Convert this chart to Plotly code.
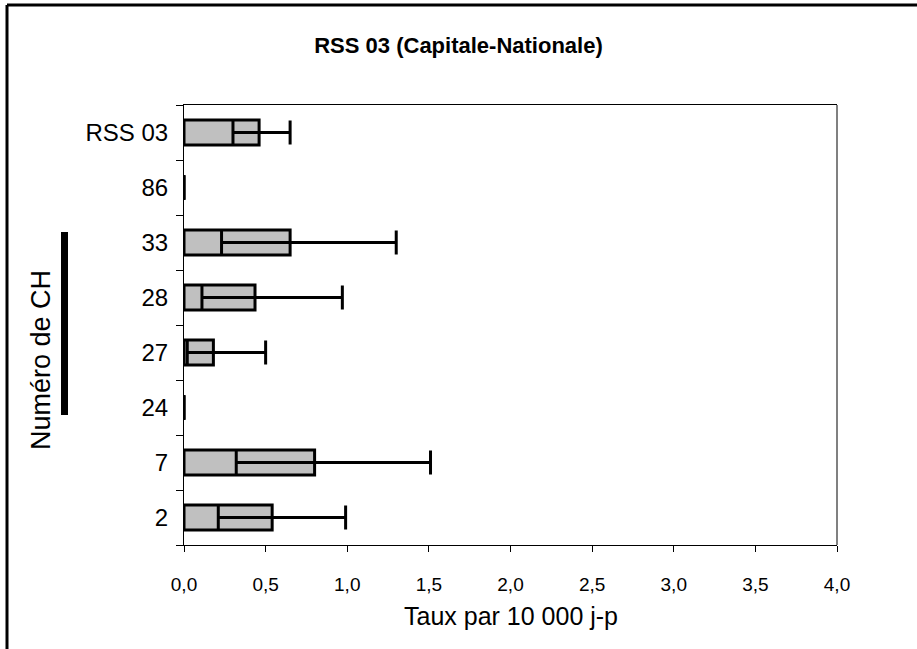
import plotly.graph_objects as go

# Data (bottom to top)
categories = ["2", "7", "24", "27", "28", "33", "86", "RSS 03"]
rates = [0.54, 0.80, 0.0, 0.18, 0.435, 0.65, 0.0, 0.46]
lower_ci = [0.21, 0.32, 0.0, 0.02, 0.11, 0.23, 0.0, 0.30]
upper_ci = [0.99, 1.51, 0.0, 0.50, 0.97, 1.30, 0.0, 0.65]
x_ticks = [0, 0.5, 1.0, 1.5, 2.0, 2.5, 3.0, 3.5, 4.0]

err_plus = [u - r for u, r in zip(upper_ci, rates)]
err_minus = [r - l for r, l in zip(rates, lower_ci)]

fig = go.Figure()
fig.add_trace(go.Bar(
    x=rates, y=categories, orientation="h",
    marker=dict(color="#C0C0C0", line=dict(color="black", width=3)),
    error_x=dict(type="data", symmetric=False, array=err_plus, arrayminus=err_minus,
                 color="black", thickness=3, width=12),
    showlegend=False,
))

# plot area: left 184, right 837, top 105, bottom 545
W, H = 917, 649
L, R, T, B = 184, 837, 105, 545
pw, ph = R - L, B - T

def px(xp):
    return (xp - L) / pw

def py(yp):
    return 1 - (yp - T) / ph

fig.update_layout(
    width=W, height=H,
    margin=dict(l=L, r=W - R, t=T, b=H - B, pad=0),
    paper_bgcolor="white", plot_bgcolor="white",
    separators=", ",
    bargap=0.545,
    font=dict(family="Liberation Sans, Arial, sans-serif", color="black"),
    title=dict(text="<b>RSS 03 (Capitale-Nationale)</b>", x=0.5, xanchor="center",
               y=1 - 45 / H, yanchor="middle",
               font=dict(size=22, family="Liberation Sans, Arial, sans-serif", color="black")),
    xaxis=dict(range=[0, 4], tickvals=x_ticks, tickformat=".1f",
               showgrid=False, zeroline=False,
               showline=True, linecolor="black", linewidth=1, mirror=True,
               ticks="outside", ticklen=6, tickcolor="black",
               ticklabelstandoff=16,
               tickfont=dict(size=19)),
    yaxis=dict(type="category", categoryorder="array", categoryarray=categories,
               showgrid=False, zeroline=False,
               showline=True, linecolor="black", linewidth=1,
               ticks="outside", ticklen=7, tickcolor="black", tickson="boundaries",
               ticklabelstandoff=10,
               tickfont=dict(size=24)),
    annotations=[
        dict(text="Taux par 10 000 j-p", xref="paper", yref="paper", x=0.5, y=py(616),
             xanchor="center", yanchor="middle", showarrow=False, font=dict(size=25)),
        dict(text="Numéro de CH", xref="paper", yref="paper", x=px(41), y=py(360),
             xanchor="center", yanchor="middle", textangle=-90, showarrow=False,
             font=dict(size=27)),
    ],
    shapes=[
        # right border of plot area (grey)
        dict(type="line", xref="paper", yref="paper", x0=1, x1=1, y0=0, y1=1,
             line=dict(color="#808080", width=2)),
        # decorative black bar next to axis title
        dict(type="rect", xref="paper", yref="paper", x0=px(61), x1=px(68), y0=py(415), y1=py(232),
             fillcolor="black", line=dict(width=0)),
        # outer frame (left and top)
        dict(type="line", xref="paper", yref="paper", x0=px(7), x1=px(7), y0=py(5), y1=py(660),
             line=dict(color="black", width=3)),
        dict(type="line", xref="paper", yref="paper", x0=px(7), x1=px(930), y0=py(5), y1=py(5),
             line=dict(color="black", width=3)),
    ],
)

fig.write_html("out.html")
